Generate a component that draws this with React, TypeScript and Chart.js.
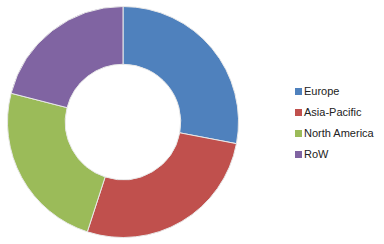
import React, { useEffect, useRef } from "react";
import { Chart, registerables } from "chart.js";

Chart.register(...registerables);

const categories = ["Europe", "Asia-Pacific", "North America", "RoW"];
const shares = [28, 27, 24, 21];
const colors = ["#4F81BD", "#C0504D", "#9BBB59", "#8064A2"];

export default function App() {
  const ref = useRef<HTMLCanvasElement | null>(null);

  useEffect(() => {
    document.body.style.margin = "0";
    if (!ref.current) return;
    const chart = new Chart(ref.current, {
      type: "doughnut",
      data: {
        labels: categories,
        datasets: [
          {
            data: shares,
            backgroundColor: colors,
            borderColor: "#e8e8e8",
            borderWidth: 1,
          },
        ],
      },
      options: {
        animation: false,
        responsive: false,
        maintainAspectRatio: false,
        cutout: "50%",
        layout: { padding: 0 },
        plugins: {
          legend: { display: false },
          tooltip: { enabled: false },
        },
      },
    });
    return () => chart.destroy();
  }, []);

  return (
    <div style={{ position: "fixed", left: 0, top: 0, width: 384, height: 244, background: "#fff" }}>
      <canvas
        ref={ref}
        width={232}
        height={232}
        style={{ position: "absolute", left: 7, top: 6, width: 232, height: 232 }}
      />
      {categories.map((c, i) => (
        <div
          key={c}
          style={{
            position: "absolute",
            left: 295,
            top: 84 + i * 21,
            height: 14,
            display: "flex",
            alignItems: "center",
            fontFamily: "'Liberation Sans', Arial, sans-serif",
            fontSize: 11,
            color: "#222",
            whiteSpace: "nowrap",
          }}
        >
          <span style={{ display: "inline-block", width: 7, height: 7, background: colors[i], marginRight: 2 }} />
          <span>{c}</span>
        </div>
      ))}
    </div>
  );
}
